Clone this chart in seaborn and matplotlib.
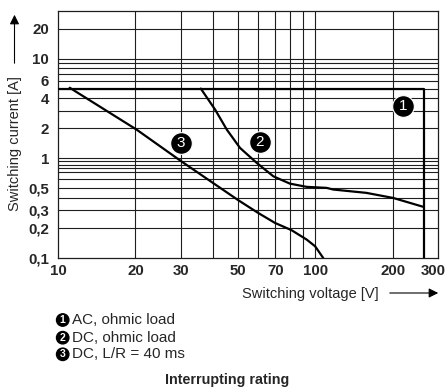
import numpy as np
import matplotlib
matplotlib.use("Agg")
import matplotlib.pyplot as plt
import matplotlib.transforms as mtransforms
from matplotlib.patches import Circle
import seaborn as sns

# switching voltage [V] / switching current [A]
ac_volt = [10, 265, 265]
ac_amp = [5, 5, 0.1]

dc_volt = [35.9, 40.8, 45.3, 51.0, 59.2, 68.7, 79.7, 92.6, 110.7, 117.5, 158, 201, 263]
dc_amp = [5.0, 3.08, 1.94, 1.27, 0.90, 0.66, 0.557, 0.517, 0.505, 0.486, 0.45, 0.40, 0.326]

lr_volt = [11.1, 20.2, 30.2, 50.2, 60.0, 69.7, 80.9, 92.6, 99.9, 107.4]
lr_amp = [5.1, 1.94, 0.93, 0.38, 0.283, 0.225, 0.19, 0.153, 0.131, 0.1]

# curve tags: number, voltage, current
tag_nums = ["1", "2", "3"]
tag_volt = [220, 60.9, 30.1]
tag_amp = [3.32, 1.45, 1.43]

legend_text = ["AC, ohmic load", "DC, ohmic load", "DC, L/R = 40 ms"]

x_ticks = [10, 20, 30, 50, 70, 100, 200, 300]
x_grid = [20, 30, 40, 50, 60, 70, 80, 90, 100, 200]
y_ticks = [0.1, 0.2, 0.3, 0.5, 1, 2, 4, 6, 10, 20]
y_labels = ["0,1", "0,2", "0,3", "0,5", "1", "2", "4", "6", "10", "20"]
y_grid = [0.2, 0.3, 0.4, 0.5, 0.62, 0.73, 0.79, 0.85, 0.93, 1,
          2, 3, 4, 5, 6, 7, 8, 9, 10, 20]

sns.set_theme(style="white")
plt.rcParams["font.family"] = ["Liberation Sans", "DejaVu Sans"]

W, H = 448, 387
fig = plt.figure(figsize=(W / 100, H / 100), dpi=100)
ax = fig.add_axes([58 / W, (H - 258) / H, 380 / W, 247 / H])
ax.set_xscale("log")
ax.set_yscale("log")
ax.set_xlim(10, 300)
ax.set_ylim(0.1, 30)

for v in x_grid:
    ax.axvline(v, color="#1e1e1e", lw=0.8, zorder=1)
for a in y_grid:
    ax.axhline(a, color="#1e1e1e", lw=0.8, zorder=1)

for xs, ys in [(ac_volt, ac_amp), (dc_volt, dc_amp), (lr_volt, lr_amp)]:
    sns.lineplot(x=xs, y=ys, ax=ax, sort=False, estimator=None,
                 color="black", lw=1.6, zorder=3)

ax.plot(tag_volt, tag_amp, "o", ms=15.6, color="black", mec="white",
        mew=0.8, zorder=4)
for n, v, a in zip(tag_nums, tag_volt, tag_amp):
    ax.text(v, a, n, color="white", fontsize=11, ha="center", va="center",
            zorder=5)

ax.set_xticks(x_ticks)
ax.set_xticklabels([str(t) for t in x_ticks], fontweight="bold", fontsize=10.8)
ax.set_yticks(y_ticks)
ax.set_yticklabels(y_labels, fontweight="bold", fontsize=10.8)
ax.minorticks_off()
ax.tick_params(axis="both", length=0)
ax.tick_params(axis="x", pad=4.5)
ax.tick_params(axis="y", pad=6.5)
# the last x label sits a bit left of the right edge, as in the datasheet
last = ax.get_xticklabels()[-1]
last.set_transform(last.get_transform() +
                   mtransforms.ScaledTranslation(-0.045, 0, fig.dpi_scale_trans))
for s in ax.spines.values():
    s.set_color("#1e1e1e")
    s.set_linewidth(0.9)

# axis titles with arrows
fig.text(15 / W, 1 - 144 / H, "Switching current [A]", rotation=90,
         ha="center", va="center", fontsize=10.5)
ax.annotate("", xy=(14.5, H - 12), xytext=(14.5, H - 66),
            xycoords="figure pixels", textcoords="figure pixels",
            arrowprops=dict(arrowstyle="-|>", color="black", lw=0.8,
                            mutation_scale=14))
fig.text(310.5 / W, 1 - 294 / H, "Switching voltage [V]", ha="center",
         va="center", fontsize=10.5)
ax.annotate("", xy=(441, H - 293), xytext=(387, H - 293),
            xycoords="figure pixels", textcoords="figure pixels",
            arrowprops=dict(arrowstyle="-|>", color="black", lw=0.8,
                            mutation_scale=14))

# legend of circled numbers
ident = mtransforms.IdentityTransform()
for i, (n, t) in enumerate(zip(tag_nums, legend_text)):
    yc = [320, 337.7, 354.3][i]
    fig.add_artist(Circle((62.7, H - yc), 6.2, transform=ident,
                          color="black", zorder=5))
    fig.text(62.7 / W, 1 - yc / H, n, color="white", fontsize=7.5,
             fontweight="bold", ha="center", va="center", zorder=6)
    fig.text(71.5 / W, 1 - yc / H, t, fontsize=11, ha="left", va="center")

fig.text(226.7 / W, 1 - 380 / H, "Interrupting rating", fontweight="bold",
         fontsize=10.3, ha="center", va="center")

fig.savefig("out.png", dpi=100)
